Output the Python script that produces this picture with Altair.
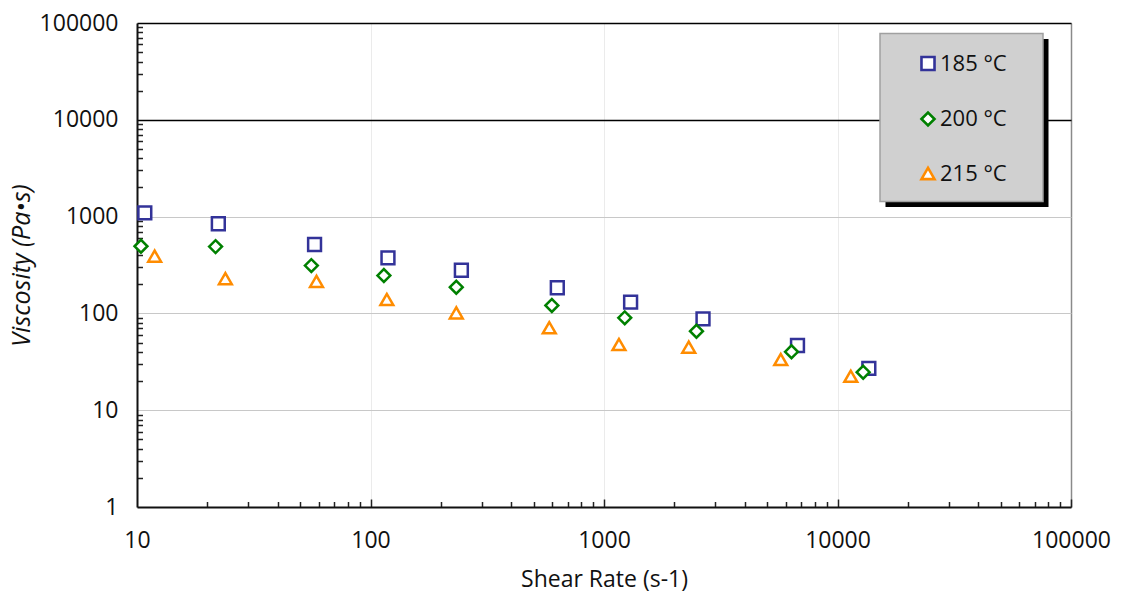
import altair as alt
import pandas as pd

# ---- data ----
series_names = ["185 °C", "200 °C", "215 °C"]

shear_185 = [10.8, 22.3, 57.6, 118.8, 245, 631, 1300, 2655, 6740, 13620]
visc_185 = [1094, 843, 515, 375, 279, 184, 130.6, 87.9, 46.6, 27.0]

shear_200 = [10.4, 21.7, 55.8, 114.1, 233, 598, 1227, 2489, 6353, 12880]
visc_200 = [494, 490, 312, 246, 186.5, 120.7, 90, 65.5, 40.1, 24.7]

shear_215 = [11.9, 23.9, 58.7, 117.5, 233, 583, 1159, 2306, 5715, 11400]
visc_215 = [390, 229, 214, 139, 101.4, 71, 47.7, 44.8, 33.4, 22.4]

x_major = [10, 100, 1000, 10000, 100000]
y_major = [1, 10, 100, 1000, 10000, 100000]

colors = ["#333399", "#008000", "#ff8c00"]
shapes = ["square", "diamond", "triangle-up"]

rows = []
for name, xs, ys in zip(series_names, [shear_185, shear_200, shear_215], [visc_185, visc_200, visc_215]):
    for a, b in zip(xs, ys):
        rows.append({"series": name, "shear": a, "visc": b})
df = pd.DataFrame(rows)

x_minor = [k * 10 ** e for e in range(1, 5) for k in range(2, 10)] + x_major[1:]
y_minor = [k * 10 ** e for e in range(0, 5) for k in range(2, 10)]

FONT = "Open Sans"
W, H = 934, 484

xscale = alt.Scale(type="log", domain=[10, 100000], nice=False)
yscale = alt.Scale(type="log", domain=[1, 100000], nice=False)

legend = alt.Legend(
    title=None, orient="none", legendX=743, legendY=10.5,
    padding=19, rowPadding=31.5, symbolOffset=18, labelOffset=1,
    symbolSize=170, symbolStrokeWidth=2.6, symbolFillColor="white",
    labelFont=FONT, labelFontSize=22, labelColor="#111111",
)

points = alt.Chart(df).mark_point(filled=False, fill="white", size=165, strokeWidth=2.5, opacity=1).encode(
    x=alt.X("shear:Q", scale=xscale, axis=alt.Axis(
        values=x_major, format="d", title="Shear Rate (s-1)", orient="bottom",
        grid=True, labelFlush=False,
        gridColor={"condition": {"test": "datum.value === 100000", "value": "#8a8a8a"}, "value": "#ebebeb"},
        gridWidth={"condition": {"test": "datum.value === 100000", "value": 1.5}, "value": 1},
        ticks=False, domainColor="#111111", domainWidth=2,
        labelFont=FONT, labelFontSize=23, labelColor="#111111", labelPadding=22,
        titleFont=FONT, titleFontSize=23, titleFontWeight="normal", titleColor="#111111", titlePadding=16,
    )),
    y=alt.Y("visc:Q", scale=yscale, axis=alt.Axis(
        values=y_major, format="d", title="Viscosity (Pa•s)", orient="left",
        grid=True, labelFlush=False,
        gridColor={"condition": {"test": "datum.value >= 10000", "value": "#000000"}, "value": "#c8c8c8"},
        gridWidth={"condition": {"test": "datum.value >= 10000", "value": 1.3}, "value": 1},
        ticks=False, domainColor="#111111", domainWidth=2,
        labelFont=FONT, labelFontSize=23, labelColor="#111111", labelPadding=19,
        titleFont=FONT, titleFontSize=25, titleFontWeight="normal", titleFontStyle="italic",
        titleColor="#111111", titlePadding=5,
    )),
    color=alt.Color("series:N", scale=alt.Scale(domain=series_names, range=colors), legend=legend),
    shape=alt.Shape("series:N", scale=alt.Scale(domain=series_names, range=shapes), legend=legend),
)

minor = alt.Chart(df).mark_point(opacity=0).encode(
    x=alt.X("shear:Q", scale=xscale, axis=alt.Axis(
        values=x_minor, orient="top", offset=-H, labels=False, domain=False, grid=False, title=None,
        ticks=True, tickColor="#222222", tickWidth=1.5,
        tickSize={"condition": {"test": "indexof([100, 1000, 10000, 100000], datum.value) >= 0", "value": 8}, "value": 5.5},
    )),
    y=alt.Y("visc:Q", scale=yscale, axis=alt.Axis(
        values=y_minor, orient="right", offset=-W, labels=False, domain=False, grid=False, title=None,
        ticks=True, tickColor="#222222", tickWidth=1.5, tickSize=5.5,
    )),
)

# decorative legend frame: drop shadow and grey box behind the legend entries
one_row = alt.Data(values=[{"k": 1}])
shadow = alt.Chart(one_row).mark_rect(color="#000000").encode(
    x=alt.value(748.5), x2=alt.value(911.5), y=alt.value(16), y2=alt.value(184),
)
box = alt.Chart(one_row).mark_rect(fill="#d0d0d0", stroke="#a0a0a0", strokeWidth=1.5).encode(
    x=alt.value(743), x2=alt.value(906), y=alt.value(10.5), y2=alt.value(178.5),
)

chart = alt.layer(shadow, box, minor, points).resolve_axis(x="independent", y="independent").properties(
    width=W, height=H,
    padding={"left": 137, "top": 23, "right": 1124 - 137 - W, "bottom": 596 - 23 - H},
    autosize=alt.AutoSizeParams(type="none"),
).configure_view(stroke=None).configure(background="white")

chart.save("out.html", embed_options={"renderer": "svg", "actions": False})
